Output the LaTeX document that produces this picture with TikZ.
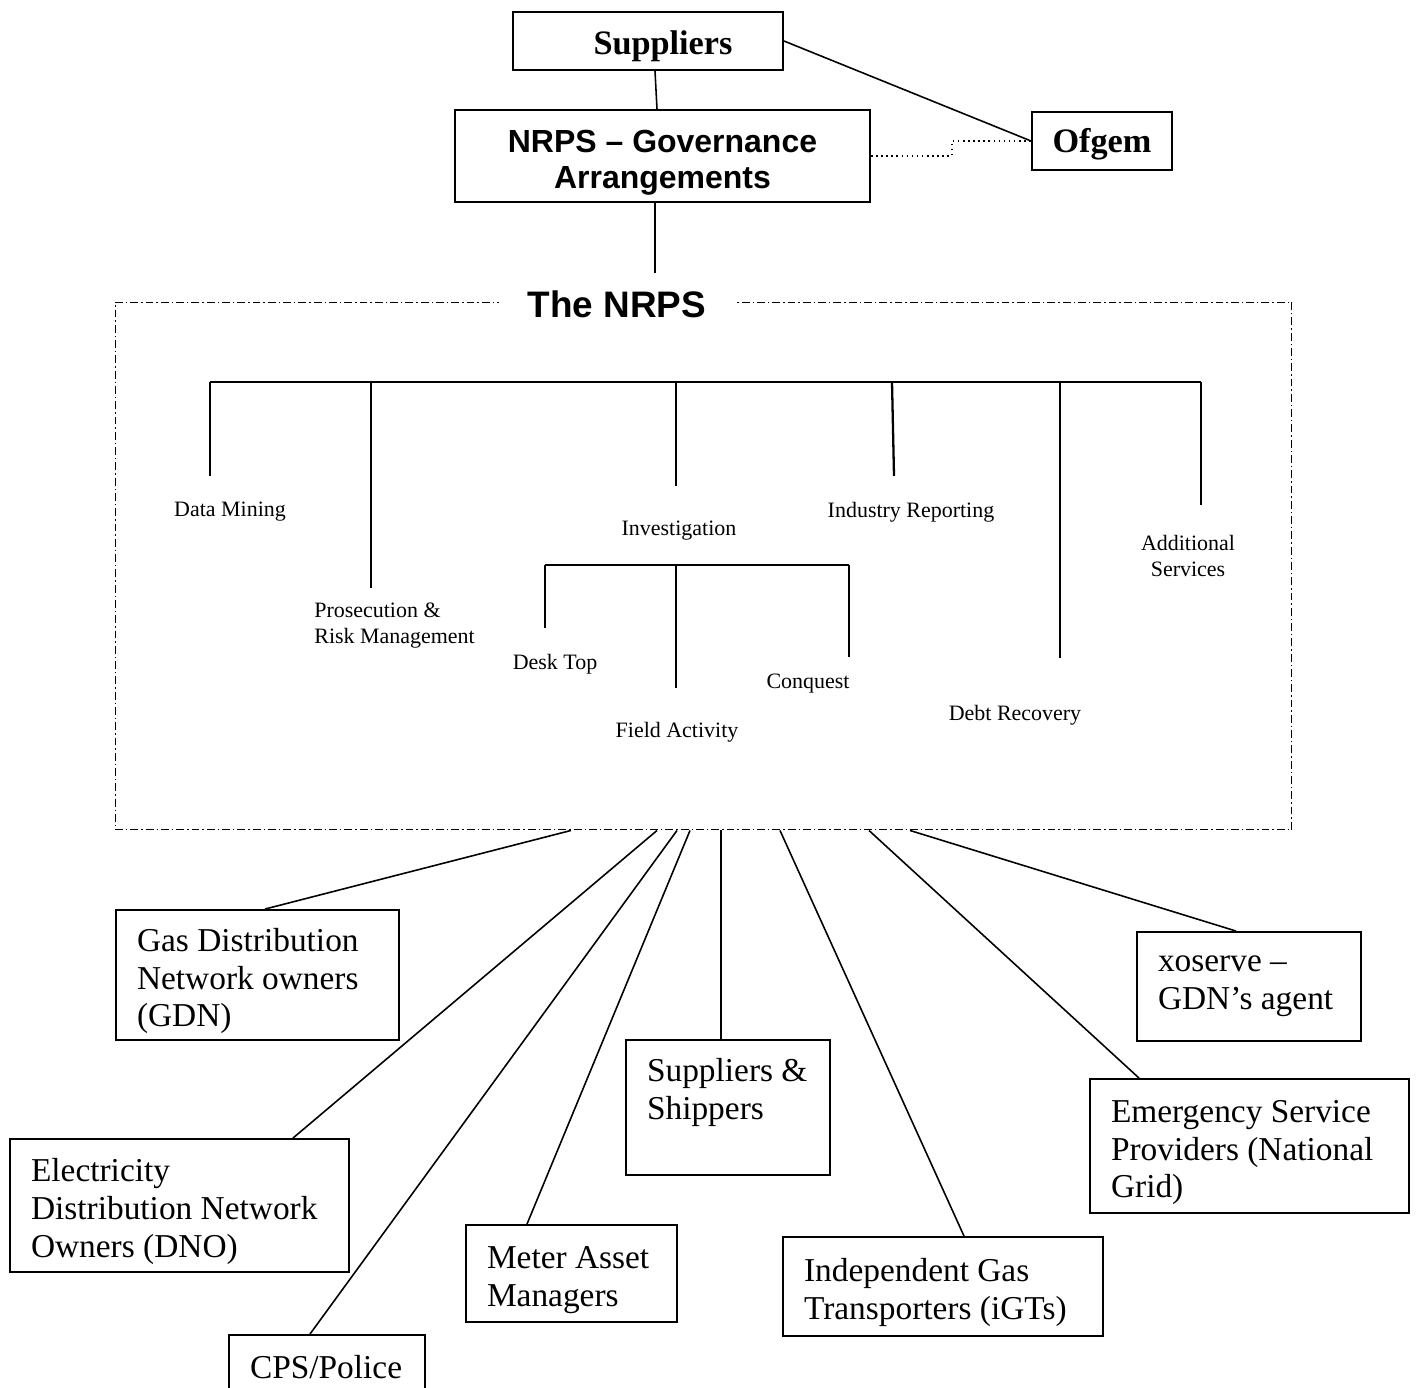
\documentclass[tikz,border=0pt]{standalone}
\usepackage{fontspec}
\setmainfont{Liberation Serif}
\newfontfamily\arialfont{Liberation Sans}
\newcommand\boxfont{\fontsize{19}{21.5}\selectfont}
\newcommand\leaffont{\fontsize{12.5}{14.8}\selectfont}
\newcommand\topstrut{\rule{0pt}{20pt}}
\tikzset{
  party/.style={draw, line width=1.1pt, align=flush left, inner xsep=0.42cm, inner ysep=0pt, font=\boxfont},
  tallfirst/.style={execute at begin node=\topstrut},
  head/.style={draw, line width=1.1pt, inner sep=0pt},
  leaf/.style={font=\leaffont, inner sep=0pt},
  link/.style={line width=0.9pt},
  branch/.style={line width=1.3pt},
}

\begin{document}
\begin{tikzpicture}[x=0.02cm, y=-0.02cm]
  \useasboundingbox (0,0) rectangle (1416,1388);
  %%%%% START %%%%%

  \node[head, minimum width=5.4cm, minimum height=1.16cm, text height=18pt, text depth=3pt, font=\fontsize{19.5}{22}\selectfont\bfseries] (sup) at (648,41) {\hspace*{0.6cm}Suppliers};
  \node[head, align=center, minimum width=8.3cm, minimum height=1.84cm, font=\arialfont\bfseries\fontsize{18.2}{20.5}\selectfont] (gov) at (662.5,156) {\topstrut NRPS – Governance\\Arrangements};
  \node[head, minimum width=2.8cm, minimum height=1.16cm, text height=17pt, text depth=4.3pt, font=\fontsize{19.5}{22}\selectfont\bfseries] (ofg) at (1102,141) {Ofgem};

  \draw[link] (sup.south -| 655,0) -- (gov.north -| 657,0);
  \draw[link] (sup.east) -- (ofg.west);
  \draw[link, dotted] (gov.east) -- ++(81,0) |- (ofg.west);
  \draw[link] (gov.south -| 655,0) -- ++(0,70);

  % the NRPS frame
  \node[draw, line width=0.6pt, dash pattern=on 4.5pt off 1.7pt on 0.8pt off 1.7pt, minimum width=23.54cm, minimum height=10.56cm, inner sep=0pt] (nrps) at (703.5,566) {};
  \node[fill=white, inner xsep=0.57cm, inner ysep=2pt, font=\arialfont\bfseries\fontsize{21}{24}\selectfont] (title) at (617,304) {The NRPS};

  \coordinate (bar) at (210,382);
  \draw[branch] (bar) -- ++(991,0);
  \draw[branch] (bar) -- ++(0,94);
  \draw[branch] (bar -| 371,0) -- ++(0,206);
  \draw[branch] (bar -| 676,0) -- ++(0,104);
  \draw[branch] (bar -| 892,0) -- ++(2,94);
  \draw[branch] (bar -| 1060,0) -- ++(0,276);
  \draw[branch] (bar -| 1201,0) -- ++(0,123);

  \coordinate (sub) at (545,565);
  \draw[branch] (sub) -- ++(304,0);
  \draw[branch] (sub) -- ++(0,63);
  \draw[branch] (sub -| 676,0) -- ++(0,123);
  \draw[branch] (sub -| 849,0) -- ++(0,92);

  \node[leaf] (dm) at (230,512) {Data Mining};
  \node[leaf, anchor=west, align=left] (prm) at (314,626) {Prosecution \&\\Risk Management};
  \node[leaf] (inv) at (679,531) {Investigation};
  \node[leaf] (ir) at (911,512) {Industry Reporting};
  \node[leaf] (dr) at (1015,715) {Debt Recovery};
  \node[leaf, align=center] (as) at (1188,556) {Additional\\Services};
  \node[leaf] (dt) at (555,664) {Desk Top};
  \node[leaf] (fa) at (677,732) {Field Activity};
  \node[leaf] (cq) at (808,684) {Conquest};

  % parties round the NRPS
  \node[party, tallfirst, text width=4.82cm, minimum height=2.6cm] (gdn) at (257.5,975) {Gas Distribution\\Network owners\\(GDN)};
  \node[party, tallfirst, text width=5.94cm, minimum height=2.66cm] (dno) at (179.5,1205.5) {Electricity\\Distribution Network\\Owners (DNO)};
  \node[party, text width=3.08cm, minimum height=1.3cm] (cps) at (327,1367.5) {CPS/Police};
  \node[party, tallfirst, text width=3.38cm, minimum height=1.94cm] (mam) at (571.5,1273.5) {Meter Asset\\Managers};
  \node[party, text width=3.24cm, minimum height=2.7cm] (shp) at (728,1107.5) {Suppliers~\&\\Shippers\\\mbox{}};
  \node[party, tallfirst, text width=5.56cm, minimum height=1.98cm] (igt) at (943,1286.5) {Independent Gas\\Transporters (iGTs)};
  \node[party, tallfirst, text width=5.54cm, minimum height=2.68cm] (esp) at (1249.5,1146) {Emergency Service\\Providers (National\\Grid)};
  \node[party, text width=3.64cm, minimum height=2.18cm] (xos) at (1249,986.5) {xoserve –\\GDN’s agent};

  \draw[link] (nrps.south -| 571,0) -- (gdn.north -| 265,0);
  \draw[link] (nrps.south -| 657,0) -- (dno.north -| 293,0);
  \draw[link] (nrps.south -| 677,0) -- (cps.north -| 310,0);
  \draw[link] (nrps.south -| 690,0) -- (mam.north -| 527,0);
  \draw[link] (nrps.south -| 721,0) -- (shp.north -| 721,0);
  \draw[link] (nrps.south -| 780,0) -- (igt.north -| 964,0);
  \draw[link] (nrps.south -| 869,0) -- (esp.north -| 1139,0);
  \draw[link] (nrps.south -| 910,0) -- (xos.north -| 1236,0);

  %%%%% END %%%%%
\end{tikzpicture}
\end{document}
